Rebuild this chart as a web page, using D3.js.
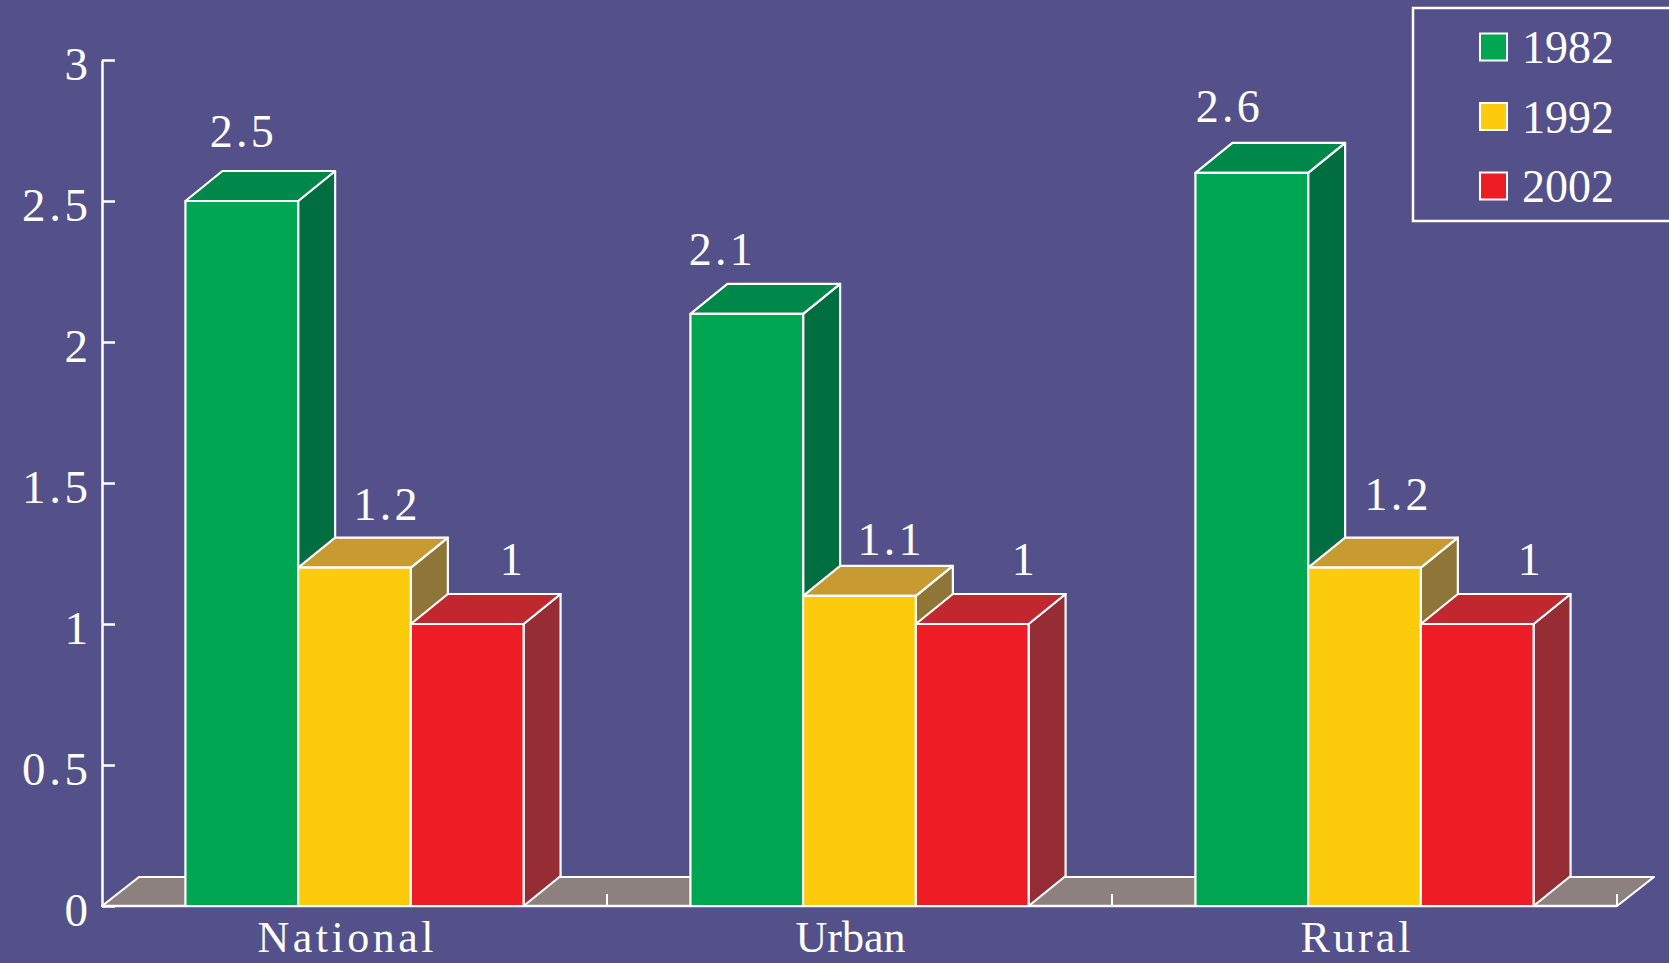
<!DOCTYPE html>
<html>
<head>
<meta charset="utf-8">
<script src="https://cdn.jsdelivr.net/npm/d3@7/dist/d3.min.js"></script>
<style>
  html, body { margin: 0; padding: 0; background: #53508a; overflow: hidden; }
  svg { display: block; }
</style>
</head>
<body>
<svg id="chart" width="1669" height="963"></svg>
<script>
// ---- data ----
const categories = ["National", "Urban", "Rural"];
const seriesNames = ["1982", "1992", "2002"];
const values1982 = [2.5, 2.1, 2.6];
const values1992 = [1.2, 1.1, 1.2];
const values2002 = [1.0, 1.0, 1.0];
const yTicks = [0, 0.5, 1, 1.5, 2, 2.5, 3];

// ---- styling ----
const W = 1669, H = 963;
const bg = "#53508a";
const faceColors = {
  "1982": { front: "#00a651", top: "#00884a", side: "#006e41" },
  "1992": { front: "#fccb0b", top: "#c89b32", side: "#8f7538" },
  "2002": { front: "#ee1d25", top: "#c1272e", side: "#962d34" }
};
const floorColor = "#8c817e";
const depthX = 37, depthY = -30;      // oblique projection of bar depth
const floorDepthY = -29;
const serif = "'Liberation Serif', 'Times New Roman', serif";

// label placement tweaks (dx from front-face centre, dy from back top edge)
const labelNudge = [
  [[0, -24], [31, -18], [44, -19]],
  [[-26, -19], [30, -11], [51, -19]],
  [[-24, -21], [32, -28], [52, -19]]
];

const table = categories.map((c, i) => ({
  category: c,
  values: [values1982[i], values1992[i], values2002[i]]
}));

const svg = d3.select("#chart");
svg.append("rect").attr("width", W).attr("height", H).attr("fill", bg);

// ---- scales ----
const plotLeft = 102, plotRight = 1617, plotBottom = 906, plotTop = 60;
const y = d3.scaleLinear().domain([0, 3]).range([plotBottom, plotTop]);
const x0 = d3.scaleBand().domain(categories).range([plotLeft, plotRight]).paddingInner(0).paddingOuter(0);
const x1 = d3.scaleBand().domain(seriesNames).range([0, x0.bandwidth()]).paddingInner(0).paddingOuter(0.74);

// ---- floor ----
const floor = svg.append("g");
floor.append("path")
  .attr("d", `M${plotLeft},${plotBottom} L${plotLeft + depthX},${plotBottom + floorDepthY} L${plotRight + depthX},${plotBottom + floorDepthY} L${plotRight},${plotBottom} Z`)
  .attr("fill", floorColor)
  .attr("stroke", "#fff").attr("stroke-width", 2.2).attr("stroke-linejoin", "round");

// category axis along the front edge of the floor
const xAxisG = svg.append("g");
xAxisG.append("line")
  .attr("x1", plotLeft).attr("x2", plotRight).attr("y1", plotBottom).attr("y2", plotBottom)
  .attr("stroke", "#fff").attr("stroke-width", 2.5);
const boundaries = categories.map(c => x0(c) + x0.bandwidth());
xAxisG.selectAll("line.tick").data(boundaries).join("line")
  .attr("class", "tick")
  .attr("x1", d => d).attr("x2", d => d)
  .attr("y1", plotBottom).attr("y2", plotBottom - 12)
  .attr("stroke", "#fff").attr("stroke-width", 2);

// ---- bars ----
function barFaces(x, w, yTop) {
  const b = plotBottom;
  return {
    side: `M${x + w},${b} L${x + w + depthX},${b + depthY} L${x + w + depthX},${yTop + depthY} L${x + w},${yTop} Z`,
    top: `M${x},${yTop} L${x + depthX},${yTop + depthY} L${x + w + depthX},${yTop + depthY} L${x + w},${yTop} Z`,
    front: `M${x},${b} L${x},${yTop} L${x + w},${yTop} L${x + w},${b} Z`
  };
}

const groups = svg.selectAll("g.cat").data(table).join("g").attr("class", "cat");
groups.each(function (d) {
  const g = d3.select(this);
  seriesNames.forEach((s, si) => {
    const v = d.values[si];
    const x = x0(d.category) + x1(s);
    const w = x1.bandwidth();
    const yt = y(v);
    const f = barFaces(x, w, yt);
    const bar = g.append("g");
    ["side", "top", "front"].forEach(face => {
      bar.append("path")
        .attr("d", f[face])
        .attr("fill", faceColors[s][face])
        .attr("stroke", "#fff")
        .attr("stroke-width", 2.2)
        .attr("stroke-linejoin", "round");
    });
  });
});

// ---- value labels ----
const fmt = v => String(v);
const labelG = svg.append("g");
table.forEach((d, ci) => {
  seriesNames.forEach((s, si) => {
    const v = d.values[si];
    const cx = x0(d.category) + x1(s) + x1.bandwidth() / 2 + labelNudge[ci][si][0];
    const by = y(v) + depthY + labelNudge[ci][si][1];
    const t = labelG.append("text")
      .attr("x", cx).attr("y", by)
      .attr("text-anchor", "middle")
      .attr("fill", "#fff")
      .attr("font-family", serif)
      .attr("font-size", 46)
      .text(fmt(v));
    if (fmt(v).includes(".")) t.attr("textLength", 64).attr("lengthAdjust", "spacing");
  });
});

// ---- value axis ----
const yAxis = d3.axisLeft(y)
  .tickValues(yTicks)
  .tickFormat(fmt)
  .tickSizeInner(-13)
  .tickSizeOuter(0)
  .tickPadding(14);
const yAxisG = svg.append("g").attr("transform", `translate(${plotLeft},0)`).call(yAxis);
yAxisG.select(".domain").attr("stroke", "#fff").attr("stroke-width", 2.5);
yAxisG.selectAll(".tick line").attr("stroke", "#fff").attr("stroke-width", 2.5);
yAxisG.selectAll(".tick text")
  .attr("fill", "#fff")
  .attr("font-family", serif)
  .attr("font-size", 47)
  .attr("dy", "0.42em")
  .each(function (d) {
    if (fmt(d).includes(".")) d3.select(this).attr("textLength", 66).attr("lengthAdjust", "spacing");
  });

// ---- category labels ----
svg.append("g").selectAll("text").data(categories).join("text")
  .attr("x", c => x0(c) + x0.bandwidth() / 2 - 9)
  .attr("y", 952)
  .attr("text-anchor", "middle")
  .attr("fill", "#fff")
  .attr("font-family", serif)
  .attr("font-size", 44)
  .attr("textLength", c => c.length * 22)
  .attr("lengthAdjust", "spacing")
  .text(c => c);

// ---- legend ----
const legend = svg.append("g");
legend.append("rect")
  .attr("x", 1413).attr("y", 8).attr("width", 320).attr("height", 213)
  .attr("fill", "none").attr("stroke", "#fff").attr("stroke-width", 2.5);
seriesNames.forEach((s, i) => {
  const cy = 47 + i * 69.5;
  legend.append("rect")
    .attr("x", 1480).attr("y", cy - 13.5).attr("width", 27).attr("height", 27)
    .attr("fill", faceColors[s].front)
    .attr("stroke", "#fff").attr("stroke-width", 2);
  legend.append("text")
    .attr("x", 1522).attr("y", cy + 16)
    .attr("fill", "#fff")
    .attr("font-family", serif)
    .attr("font-size", 46)
    .text(s);
});
</script>
</body>
</html>
